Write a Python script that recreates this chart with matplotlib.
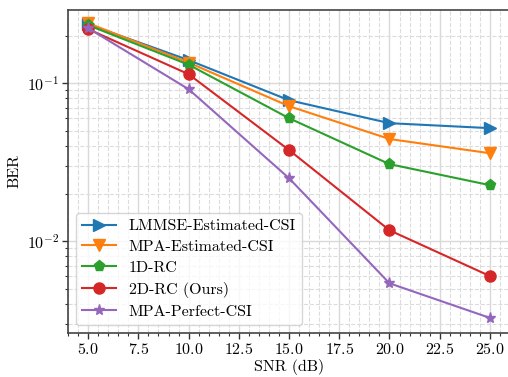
import matplotlib
matplotlib.use("Agg")
import matplotlib.pyplot as plt
from matplotlib.ticker import AutoMinorLocator

plt.rcParams.update({
    "font.family": "serif",
    "font.serif": ["cmr10"],
    "mathtext.fontset": "cm",
    "axes.formatter.use_mathtext": True,
    "axes.unicode_minus": False,
    "font.size": 11.5,
})

snr_db = [5, 10, 15, 20, 25]
ber_lmmse = [0.236, 0.140, 0.078, 0.0558, 0.0519]
ber_mpa_est = [0.240, 0.135, 0.0715, 0.0443, 0.0360]
ber_1d_rc = [0.233, 0.131, 0.0600, 0.0307, 0.0226]
ber_2d_rc = [0.220, 0.114, 0.0377, 0.0117, 0.0060]
ber_mpa_perfect = [0.223, 0.0916, 0.0250, 0.0054, 0.00326]

series = [
    ("LMMSE-Estimated-CSI", ber_lmmse, ">", "#1f77b4"),
    ("MPA-Estimated-CSI", ber_mpa_est, "v", "#ff7f0e"),
    ("1D-RC", ber_1d_rc, "p", "#2ca02c"),
    ("2D-RC (Ours)", ber_2d_rc, "o", "#d62728"),
    ("MPA-Perfect-CSI", ber_mpa_perfect, "*", "#9467bd"),
]

fig, ax = plt.subplots(figsize=(5.08, 3.77), dpi=100)
for label, values, marker, color in series:
    ax.plot(snr_db, values, marker=marker, color=color, label=label,
            linewidth=1.5, markersize=8)

ax.set_yscale("log")
ax.set_xlim(4, 26)
ax.set_ylim(0.00262, 0.29)
ax.xaxis.set_minor_locator(AutoMinorLocator(5))

ax.grid(which="major", color="#d9d9d9", linestyle="-", linewidth=1.0)
ax.grid(which="minor", color="#dcdcdc", linestyle="--", linewidth=0.8)
ax.set_axisbelow(True)

for side in ("left", "bottom", "top"):
    ax.spines[side].set_color("#444444")
    ax.spines[side].set_linewidth(1.2)
# the right edge of the frame falls just outside the canvas
ax.spines["right"].set_visible(False)
ax.tick_params(which="both", direction="out", top=False, right=False, color="#333333")
ax.tick_params(which="major", length=4, width=1.0, pad=2.5)
ax.tick_params(which="minor", length=2.5, width=0.8)

ax.set_xlabel("SNR (dB)", labelpad=1.5)
ax.set_ylabel("BER", labelpad=4)
ax.legend(loc="lower left", fontsize=11.5, frameon=True, edgecolor="#cccccc",
          handlelength=2.1, labelspacing=0.42)

fig.subplots_adjust(left=0.134, right=1.004, top=0.973, bottom=0.117)
fig.savefig("out.png", dpi=100)
